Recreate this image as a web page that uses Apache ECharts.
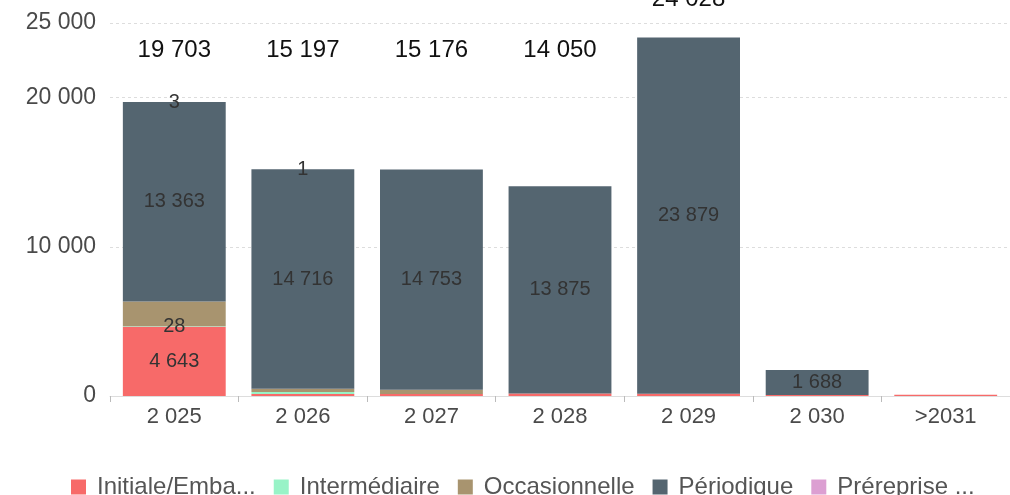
<!DOCTYPE html>
<html>
<head>
<meta charset="utf-8">
<script src="https://cdn.jsdelivr.net/npm/echarts@6/dist/echarts.min.js"></script>
<style>
  html, body { margin: 0; padding: 0; background: #fff; }
  #chart { width: 1010px; height: 495px; }
</style>
</head>
<body>
<div id="chart"></div>
<script>
const categories = ["2 025", "2 026", "2 027", "2 028", "2 029", "2 030", ">2031"];
const initiale = [4643, 130, 133, 175, 149, 60, 80];
const intermediaire = [28, 130, 0, 0, 0, 0, 0];
const occasionnelle = [1666, 220, 290, 0, 0, 0, 0];
const periodique = [13363, 14716, 14753, 13875, 23879, 1688, 0];
const prereprise = [3, 1, 0, 0, 0, 0, 0];

const seriesNames = ["Initiale/Emba...", "Intermédiaire", "Occasionnelle", "Périodique", "Préreprise ..."];
const seriesColors = ["#f76a69", "#98f3c7", "#a8946f", "#546570", "#dc9fd2"];

const font = "'Liberation Sans', Arial, sans-serif";

function fmt(v) {
  return String(v).replace(/\B(?=(\d{3})+(?!\d))/g, " ");
}

const stacks = [initiale, intermediaire, occasionnelle, periodique, prereprise];
const totals = categories.map((_, i) => stacks.reduce((s, arr) => s + arr[i], 0));

const chart = echarts.init(document.getElementById("chart"));

const stackSeries = stacks.map((data, k) => ({
  name: seriesNames[k],
  type: "bar",
  stack: "total",
  data: data,
  barCategoryGap: "20%",
  barGap: "-100%",
  itemStyle: { color: seriesColors[k] },
  label: {
    show: true,
    position: "inside",
    color: "#333",
    fontFamily: font,
    fontSize: 20,
    formatter: (p) => (p.value > 0 && (p.value < 50 || p.value > 1670) ? fmt(p.value) : ""),
  },
}));

chart.setOption({
  animation: false,
  backgroundColor: "#fff",
  grid: { left: 110, right: -6, top: 23, bottom: 99 },
  legend: {
    left: 66,
    top: 470,
    itemWidth: 15,
    itemHeight: 15,
    itemGap: 18,
    icon: "rect",
    textStyle: { color: "#555", fontFamily: font, fontSize: 24, padding: [0, 0, 0, 6] },
    data: seriesNames,
  },
  xAxis: {
    type: "category",
    data: categories,
    axisLine: { lineStyle: { color: "#ddd" } },
    axisTick: { show: true, length: 6, lineStyle: { color: "#bbb" } },
    axisLabel: { color: "#4a4a4a", fontFamily: font, fontSize: 22, margin: 10 },
  },
  yAxis: {
    type: "value",
    min: 0,
    max: 25000,
    interval: 10000,
    axisLine: { show: false },
    axisTick: { show: false },
    axisLabel: { color: "#4a4a4a", fontFamily: font, fontSize: 23, margin: 14, formatter: (v) => fmt(v) },
    splitLine: { lineStyle: { color: "#ddd", type: [3, 3] } },
  },
  series: [
    ...stackSeries,
    {
      name: "Total",
      type: "bar",
      data: totals,
      barCategoryGap: "20%",
      barGap: "-100%",
      itemStyle: { color: "rgba(0,0,0,0)" },
      z: 1,
      label: {
        show: true,
        position: "top",
        color: "#111",
        fontFamily: font,
        fontSize: 24,
        formatter: (p) => (p.value > 5000 ? fmt(p.value) : ""),
      },
      labelLayout: (params) => ({
        x: params.rect.x + params.rect.width / 2,
        y: Math.min(50, params.rect.y - 38),
        align: "center",
        verticalAlign: "middle",
      }),
    },
  ],
});
</script>
</body>
</html>
